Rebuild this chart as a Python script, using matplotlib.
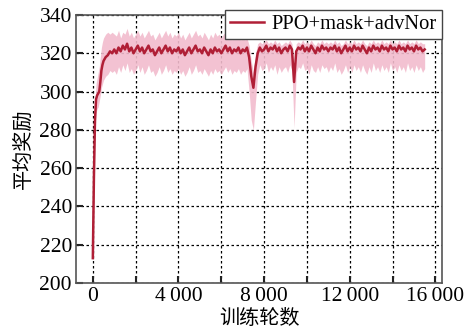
import numpy as np
import matplotlib
matplotlib.use("Agg")
import matplotlib.pyplot as plt
from matplotlib.ticker import FixedLocator

# ---- data ----
episodes_early = [0, 50, 100, 150, 200, 250, 300, 350, 400, 450, 500, 600, 700, 800, 900]
mean_early = [213, 255, 285, 296, 298, 299, 300, 305, 311, 314, 316, 318, 319, 321, 320]
upper_early = [216, 262, 294, 304, 307, 310, 313, 318, 323, 326, 328, 330, 331, 330, 331]
lower_early = [211, 249, 277, 289, 291, 292, 295, 298, 302, 304, 306, 308, 309, 311, 310]

episodes_main = list(range(1000, 15600, 100))
mean_main = [
    322, 320, 323, 321, 324, 322, 325, 321, 323, 320,
    322, 324, 321, 323, 320, 322, 324, 321, 322, 319,
    321, 323, 320, 322, 324, 321, 323, 320, 322, 321,
    323, 320, 322, 319, 321, 323, 320, 322, 324, 321,
    322, 320, 323, 321, 319, 322, 320, 323, 321, 322,
    320, 322, 324, 321, 323, 320, 322, 321, 323, 320,
    322, 321, 323, 318, 308, 302, 313, 320, 323, 321,
    322, 324, 321, 323, 322, 324, 321, 323, 320, 322,
    323, 321, 324, 322, 305, 321, 323, 322, 324, 321,
    323, 321, 324, 322, 320, 323, 321, 324, 322, 323,
    321, 323, 322, 324, 321, 323, 320, 322, 324, 321,
    323, 321, 324, 322, 323, 321, 324, 322, 320, 323,
    321, 324, 322, 323, 321, 324, 322, 323, 321, 324,
    322, 323, 321, 324, 322, 323, 321, 324, 322, 323,
    321, 324, 322, 323, 321, 322,
]
upper_main = [
    330, 329, 332, 328, 331, 330, 333, 329, 331, 328,
    330, 332, 329, 331, 328, 330, 332, 329, 330, 327,
    329, 331, 328, 330, 332, 329, 331, 328, 330, 329,
    331, 328, 330, 327, 329, 331, 328, 330, 332, 329,
    330, 328, 331, 329, 327, 330, 328, 331, 329, 330,
    328, 330, 331, 329, 330, 327, 329, 328, 330, 327,
    328, 327, 328, 324, 316, 310, 320, 325, 326, 325,
    326, 327, 325, 326, 325, 327, 325, 326, 324, 325,
    326, 325, 327, 325, 312, 325, 326, 325, 327, 325,
    326, 325, 327, 325, 324, 326, 325, 327, 325, 326,
    325, 326, 325, 327, 325, 326, 324, 325, 327, 325,
    326, 325, 327, 325, 326, 325, 327, 325, 324, 326,
    325, 327, 325, 326, 325, 327, 325, 326, 325, 327,
    325, 326, 325, 327, 325, 326, 325, 327, 325, 326,
    325, 327, 325, 326, 325, 325,
]
lower_main = [
    311, 309, 313, 310, 314, 311, 315, 310, 312, 309,
    311, 314, 310, 313, 309, 311, 314, 310, 311, 308,
    310, 313, 309, 311, 314, 310, 312, 309, 311, 310,
    312, 309, 311, 308, 310, 313, 309, 311, 314, 310,
    311, 309, 312, 310, 308, 311, 309, 312, 310, 311,
    309, 311, 313, 310, 312, 309, 311, 310, 312, 309,
    311, 310, 312, 300, 285, 280, 295, 309, 314, 311,
    312, 315, 310, 313, 311, 314, 309, 313, 310, 312,
    313, 310, 314, 311, 281, 310, 313, 312, 315, 311,
    312, 309, 314, 311, 310, 313, 310, 314, 312, 313,
    310, 313, 311, 315, 310, 312, 309, 311, 314, 310,
    313, 310, 314, 311, 313, 310, 314, 311, 309, 313,
    310, 315, 311, 313, 310, 314, 311, 313, 310, 315,
    311, 313, 310, 314, 311, 313, 310, 315, 311, 313,
    310, 314, 311, 313, 310, 312,
]

episodes = np.array(episodes_early + episodes_main)
mean_reward = np.array(mean_early + mean_main)
upper_reward = np.array(upper_early + upper_main)
lower_reward = np.array(lower_early + lower_main)

series_label = "PPO+mask+advNor"
x_label = "训练轮数"
y_label = "平均奖励"
x_tick_positions = [0, 2000, 4000, 6000, 8000, 10000, 12000, 14000, 16000]
x_tick_labels = ["0", "", "4\u2009000", "", "8\u2009000", "", "12\u2009000", "", "16\u2009000"]
y_tick_values = [200, 220, 240, 260, 280, 300, 320, 340]

# ---- figure ----
plt.rcParams['font.family'] = ['Liberation Serif', 'DejaVu Serif']
fig = plt.figure(figsize=(4.70, 3.33), dpi=100)
ax = fig.add_axes([0.162, 0.150, 0.778, 0.805])

line_color = "#b01f36"
band_color = "#f2bccd"

ax.fill_between(episodes, lower_reward, upper_reward, color=band_color, alpha=0.9,
                linewidth=0, zorder=2)
ax.plot(episodes, mean_reward, color=line_color, linewidth=1.8, label=series_label, zorder=3)

ax.set_xlim(-780, 16300)
ax.set_ylim(200, 340)

ax.xaxis.set_major_locator(FixedLocator(x_tick_positions))
ax.set_xticklabels(x_tick_labels)
ax.set_yticks(y_tick_values)

ax.tick_params(axis='both', direction='in', length=5, width=1.5, color='#222222',
               labelsize=15.5, pad=3)

ax.grid(True, color='black', linestyle=(0, (2, 2)), linewidth=0.9, zorder=1)
ax.set_axisbelow(True)

for s in ax.spines.values():
    s.set_color('#555555')
    s.set_linewidth(1.2)

ax.set_xlabel(x_label, family=['Noto Sans CJK SC'], fontsize=14.5, labelpad=1)
ax.set_ylabel(y_label, family=['Noto Sans CJK SC'], fontsize=14.5, labelpad=3)

leg = ax.legend(loc='upper right', bbox_to_anchor=(1.0, 1.019), fontsize=14.75,
                frameon=True, fancybox=False, borderpad=0.25, handlelength=1.65,
                handletextpad=0.35, borderaxespad=0.0)
leg.get_frame().set_edgecolor('#444444')
leg.get_frame().set_linewidth(1.0)
leg.get_frame().set_alpha(1.0)

fig.savefig("out.png", dpi=100)
